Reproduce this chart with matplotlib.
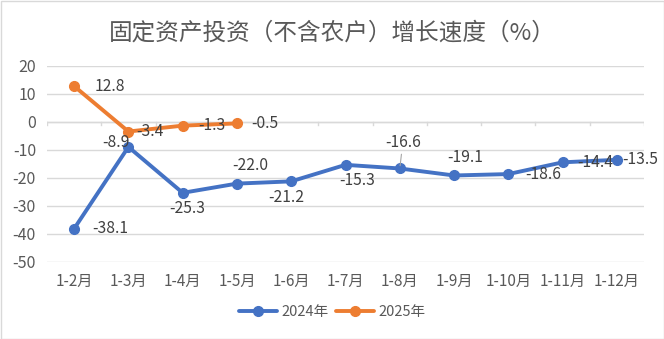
import matplotlib
matplotlib.use("Agg")
import matplotlib.pyplot as plt
from matplotlib.patches import Rectangle

plt.rcParams['font.family'] = ['Noto Sans CJK SC', 'DejaVu Sans']

months = ["1-2月", "1-3月", "1-4月", "1-5月", "1-6月", "1-7月",
          "1-8月", "1-9月", "1-10月", "1-11月", "1-12月"]
growth_2024 = [-38.1, -8.9, -25.3, -22.0, -21.2, -15.3, -16.6, -19.1, -18.6, -14.4, -13.5]
growth_2025 = [12.8, -3.4, -1.3, -0.5]
yticks = [20, 10, 0, -10, -20, -30, -40, -50]

# label offsets (pixels) for each point
off_2024 = [(36, 0), (-12, 4), (5, -16), (13, 18), (-5, -16), (12, -16),
            (3, 26), (11, 18), (35, 0), (33, 0), (23, 0)]
off_2025 = [(36, 0), (22, 0), (29, 0), (28, 0)]

blue = "#4472C4"
orange = "#ED7D31"
text_c = "#595959"
grid_c = "#D9D9D9"

fig = plt.figure(figsize=(6.64, 3.39), dpi=100)
ax = fig.add_axes([47 / 664, 1 - 262 / 339, (644 - 47) / 664, (262 - 66) / 339])

x = list(range(len(months)))
ax.plot(x, growth_2024, color=blue, lw=2.8, marker="o", ms=7,
        solid_capstyle="round", label="2024年", zorder=3)
ax.plot(x[:len(growth_2025)], growth_2025, color=orange, lw=2.8, marker="o", ms=7,
        solid_capstyle="round", label="2025年", zorder=4)

for xi, v, (dx, dy) in zip(x, growth_2024, off_2024):
    ax.annotate(f"{v:.1f}", (xi, v), xytext=(dx, dy), textcoords="offset pixels",
                ha="center", va="center", fontsize=11.3, color="#404040", zorder=5)
for xi, v, (dx, dy) in zip(x, growth_2025, off_2025):
    ax.annotate(f"{v:.1f}", (xi, v), xytext=(dx, dy), textcoords="offset pixels",
                ha="center", va="center", fontsize=11.3, color="#404040", zorder=5)

# leader line for the 1-8月 label
ax.annotate("", (6, growth_2024[6]), xytext=(2, 17), textcoords="offset pixels",
            arrowprops=dict(arrowstyle="-", color="#A6A6A6", lw=0.8))

ax.set_xlim(-0.5, len(months) - 0.5)
ax.set_ylim(-50, 20)
ax.set_yticks(yticks)
ax.set_yticklabels([str(t) for t in yticks])
ax.yaxis.grid(True, color=grid_c, lw=1)
ax.set_axisbelow(True)
for s in ["top", "right", "left", "bottom"]:
    ax.spines[s].set_visible(False)
ax.tick_params(axis="y", length=0, labelsize=11.5, labelcolor=text_c, pad=8)

# horizontal axis line at zero with category boundary ticks
ax.axhline(0, color=grid_c, lw=1, zorder=1)
for b in range(len(months) + 1):
    ax.plot([b - 0.5, b - 0.5], [0, -1.2], color=grid_c, lw=1, zorder=1)
ax.set_xticks(x)
ax.set_xticklabels(months)
ax.tick_params(axis="x", length=0, labelsize=11, labelcolor=text_c, pad=8)

fig.text(0.5, 1 - 33 / 339, "固定资产投资（不含农户）增长速度（%）", ha="center", va="center",
         fontsize=17, color=text_c)

leg = fig.legend(loc="center", bbox_to_anchor=(0.5, 1 - 312 / 339), ncol=2, frameon=False,
                 fontsize=10.5, handlelength=2.6, columnspacing=0.5, handletextpad=0.3,
                 labelcolor=text_c)

fig.patches.append(Rectangle((0.5 / 664, 0.5 / 339), 1 - 1 / 664, 1 - 1 / 339,
                             transform=fig.transFigure, fill=False, edgecolor="#D9D9D9", lw=1))

fig.savefig("out.png", dpi=100)
